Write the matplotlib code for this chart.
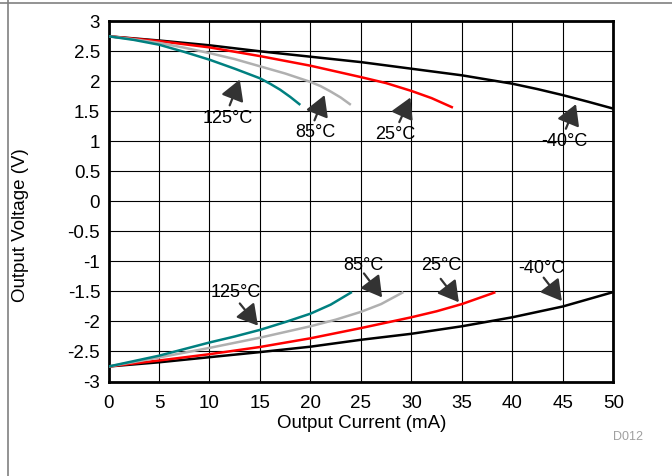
import matplotlib
matplotlib.use('Agg')
import matplotlib.pyplot as plt
from matplotlib.lines import Line2D

plt.rcParams['font.family'] = ['Liberation Sans', 'DejaVu Sans']

# upper (sourcing) curves
pos_x_125 = [0, 2.5, 5, 7.5, 10, 12.5, 15, 16, 17, 18, 18.9]
pos_y_125 = [2.75, 2.69, 2.61, 2.49, 2.36, 2.21, 2.05, 1.96, 1.86, 1.74, 1.62]
pos_x_85 = [0, 2.5, 5, 7.5, 10, 12.5, 15, 17.5, 20, 21, 22, 23, 23.9]
pos_y_85 = [2.75, 2.70, 2.64, 2.56, 2.47, 2.37, 2.25, 2.13, 1.99, 1.92, 1.83, 1.73, 1.62]
pos_x_25 = [0, 5, 10, 15, 20, 25, 27.5, 30, 32, 34]
pos_y_25 = [2.75, 2.67, 2.565, 2.42, 2.26, 2.07, 1.97, 1.84, 1.72, 1.57]
pos_x_m40 = [0, 5, 10, 15, 20, 25, 30, 35, 40, 42.5, 45, 47.5, 50]
pos_y_m40 = [2.75, 2.68, 2.6, 2.5, 2.41, 2.32, 2.21, 2.1, 1.96, 1.87, 1.77, 1.66, 1.545]

# lower (sinking) curves
neg_x_125 = [0, 2.5, 5, 7.5, 10, 12.5, 15, 17.5, 20, 22, 24]
neg_y_125 = [-2.75, -2.66, -2.57, -2.46, -2.35, -2.25, -2.14, -2.01, -1.87, -1.72, -1.52]
neg_x_85 = [0, 5, 10, 15, 20, 22.5, 25, 27, 29.1]
neg_y_85 = [-2.75, -2.6, -2.44, -2.27, -2.08, -1.97, -1.84, -1.71, -1.52]
neg_x_25 = [0, 5, 10, 15, 20, 25, 30, 32.5, 35, 38.2]
neg_y_25 = [-2.75, -2.65, -2.545, -2.425, -2.28, -2.11, -1.93, -1.83, -1.71, -1.52]
neg_x_m40 = [0, 5, 10, 15, 20, 25, 30, 35, 40, 45, 50]
neg_y_m40 = [-2.75, -2.68, -2.595, -2.51, -2.42, -2.305, -2.205, -2.08, -1.93, -1.75, -1.51]

# labels: text, text pos, arrow tail, arrow tip
labels = ['125°C', '85°C', '25°C', '-40°C', '125°C', '85°C', '25°C', '-40°C']
label_pos = [(11.8, 1.38), (20.5, 1.14), (28.4, 1.12), (45.2, 0.99),
             (12.6, -1.52), (25.2, -1.07), (33.0, -1.07), (42.9, -1.12)]
arrow_tail = [(12.0, 1.6), (20.4, 1.35), (28.8, 1.32), (45.3, 1.21),
              (13.0, -1.7), (25.3, -1.2), (32.9, -1.29), (43.1, -1.27)]
arrow_tip = [(13.0, 2.03), (21.4, 1.77), (29.9, 1.73), (46.3, 1.62),
             (14.8, -2.07), (27.1, -1.6), (34.7, -1.68), (44.9, -1.66)]

c125 = '#008080'
c85 = '#b0b0b0'
c25 = '#ff0000'
cm40 = '#000000'

fig = plt.figure(figsize=(6.72, 4.76), dpi=100)
ax = fig.add_axes([0.1615, 0.1985, 0.7512, 0.7568])

lw = 1.8
ax.plot(pos_x_m40, pos_y_m40, color=cm40, lw=lw, zorder=3)
ax.plot(pos_x_25, pos_y_25, color=c25, lw=lw, zorder=3)
ax.plot(pos_x_85, pos_y_85, color=c85, lw=lw, zorder=3)
ax.plot(pos_x_125, pos_y_125, color=c125, lw=lw, zorder=3)
ax.plot(neg_x_m40, neg_y_m40, color=cm40, lw=lw, zorder=3)
ax.plot(neg_x_25, neg_y_25, color=c25, lw=lw, zorder=3)
ax.plot(neg_x_85, neg_y_85, color=c85, lw=lw, zorder=3)
ax.plot(neg_x_125, neg_y_125, color=c125, lw=lw, zorder=3)

for lab, p, t, h in zip(labels, label_pos, arrow_tail, arrow_tip):
    ax.text(p[0], p[1], lab, ha='center', va='center', fontsize=13, zorder=5)
    ax.annotate('', xy=h, xytext=t,
                arrowprops=dict(arrowstyle='-|>,head_length=1.25,head_width=0.72',
                                color='#333333', lw=1.6, shrinkA=0, shrinkB=0,
                                mutation_scale=10),
                zorder=4)

ax.set_xlim(0, 50)
ax.set_ylim(-3, 3)
ax.set_xticks(range(0, 51, 5))
ax.set_yticks([-3, -2.5, -2, -1.5, -1, -0.5, 0, 0.5, 1, 1.5, 2, 2.5, 3])
ax.set_yticklabels(['-3', '-2.5', '-2', '-1.5', '-1', '-0.5', '0', '0.5', '1', '1.5',
                    '2', '2.5', '3'])
ax.tick_params(length=0, labelsize=13.5)
ax.tick_params(axis='x', pad=10)
ax.tick_params(axis='y', pad=6)
ax.grid(True, color='#000000', lw=0.8)
ax.set_axisbelow(True)
for s in ax.spines.values():
    s.set_linewidth(2.0)

ax.set_xlabel('Output Current (mA)', fontsize=13.5)
ax.xaxis.set_label_coords(0.501, -0.093)
ax.set_ylabel('Output Voltage (V)', fontsize=13.5)
ax.yaxis.set_label_coords(-0.157, 0.434)

fig.text(628 / 672, 1 - 437 / 476, 'D012', color='#a0a0a0', fontsize=9,
         ha='center', va='center')

# page frame lines
fig.add_artist(Line2D([0, 1], [1 - 3 / 476, 1 - 3 / 476], color='#808080', lw=1.2))
fig.add_artist(Line2D([8 / 672, 8 / 672], [0, 1], color='#808080', lw=1.2))

fig.savefig('out.png', dpi=100)
